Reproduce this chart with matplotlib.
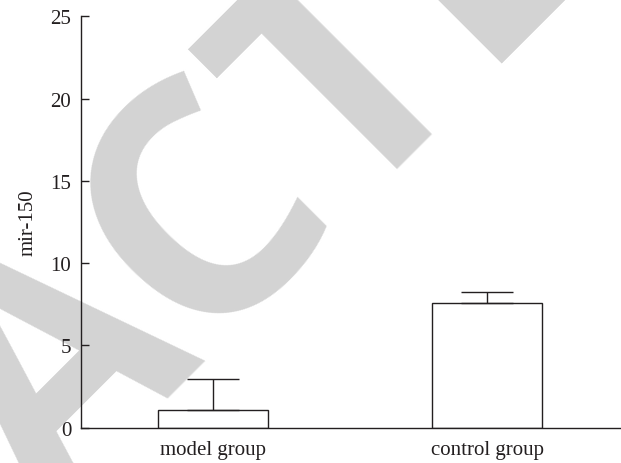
import matplotlib
matplotlib.use("Agg")
import matplotlib.pyplot as plt

# values
groups = ["model group", "control group"]
means = [1.07, 7.58]
errors = [1.91, 0.67]
y_ticks = [0, 5, 10, 15, 20, 25]

plt.rcParams.update({'font.family': 'Liberation Serif', 'font.size': 15})

fig = plt.figure(figsize=(6.21, 4.64), dpi=100)
ax = fig.add_axes([0.1304, 0.0759, 0.868, 0.8868])
ax.patch.set_visible(False)

line_col = '#231f20'
x = list(range(len(groups)))
ax.bar(x, means, width=0.4, color='white', edgecolor=line_col, linewidth=1.0, zorder=2)
ax.errorbar(x, means, yerr=[[0] * len(errors), errors], fmt='none', ecolor=line_col,
            elinewidth=1.0, capsize=19, capthick=1.0, zorder=3)

ax.set_xlim(-0.482, 1.485)
ax.set_ylim(0, 25)
ax.set_xticks(x)
ax.set_xticklabels(groups)
ax.set_yticks(y_ticks)
ax.tick_params(axis='x', length=0, pad=9, colors=line_col)
ax.tick_params(axis='y', direction='in', length=6, width=1.0, pad=7, colors=line_col)

for side in ['top', 'right']:
    ax.spines[side].set_visible(False)
for side in ['left', 'bottom']:
    ax.spines[side].set_color(line_col)
    ax.spines[side].set_linewidth(1.0)

ax.set_ylabel("mir-150", color=line_col)
ax.yaxis.set_label_coords(-0.08, 0.5)

# retraction watermark behind the chart
fig.text(122 / 621, 50 / 464, "RETRACTED", rotation=45, rotation_mode='anchor',
         ha='center', va='baseline', fontsize=235, fontweight='bold',
         family='Open Sans', color='#d3d3d3', zorder=-1)

fig.savefig("out.png", dpi=100)
